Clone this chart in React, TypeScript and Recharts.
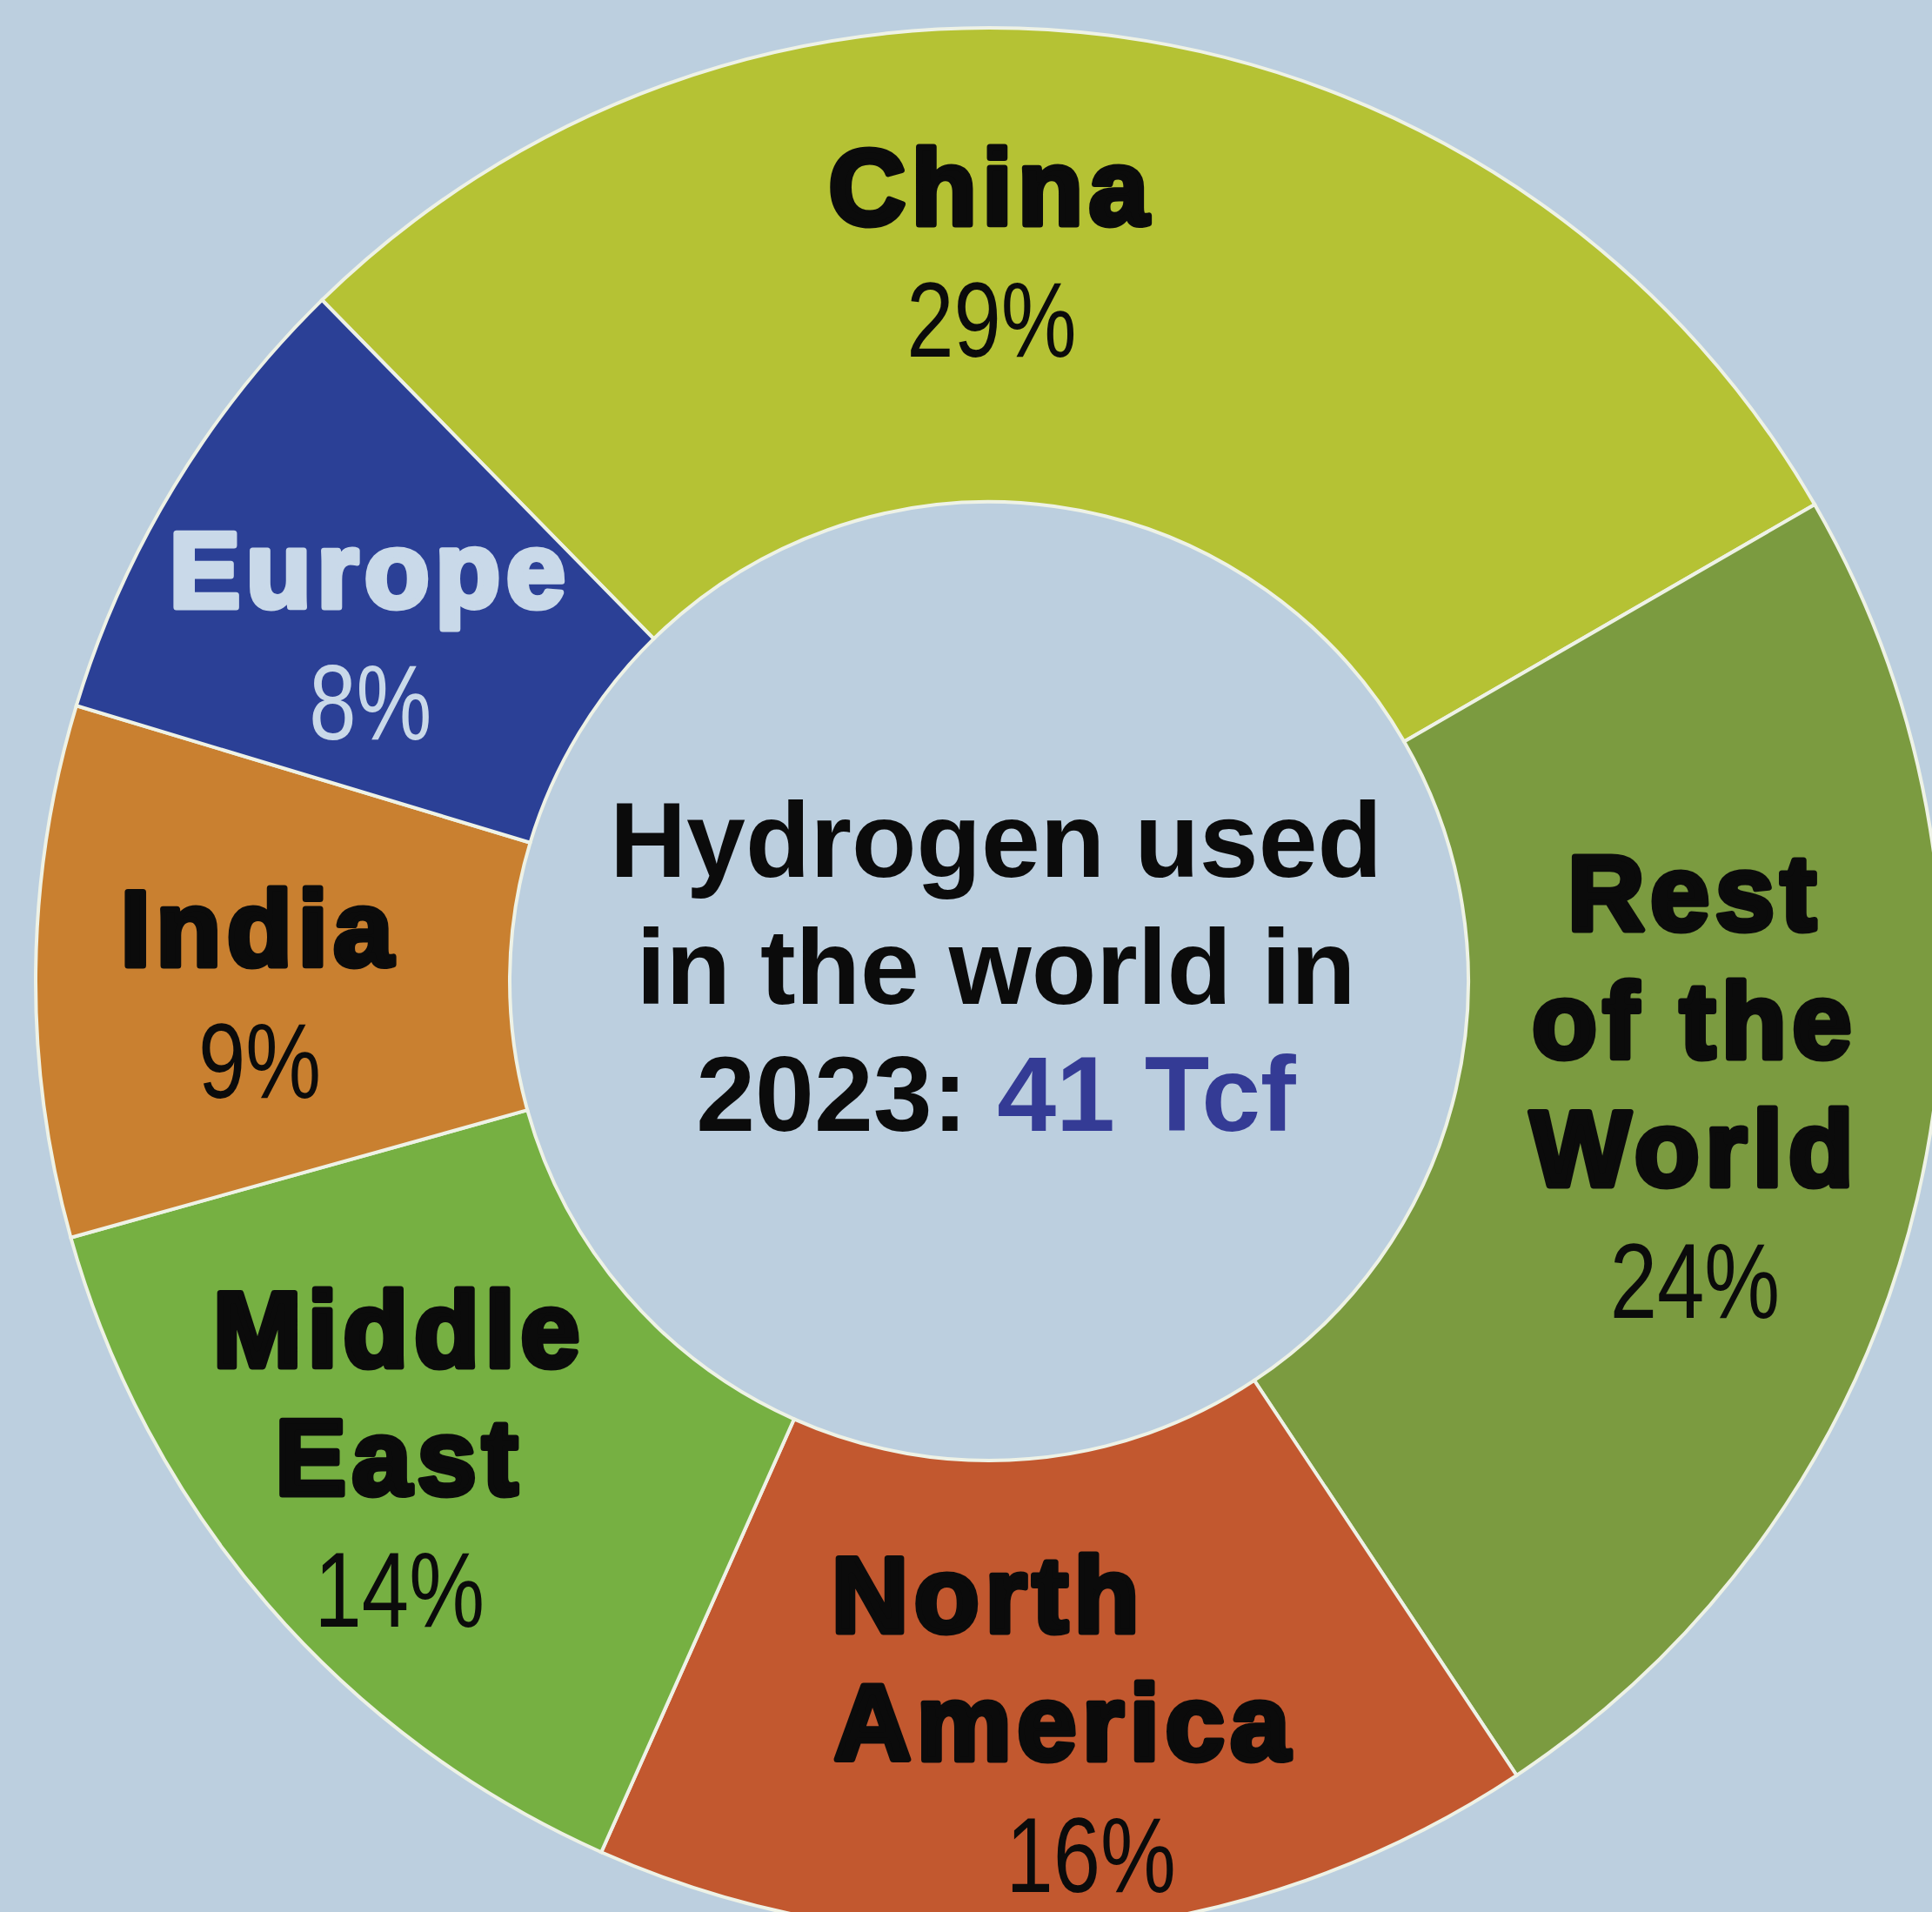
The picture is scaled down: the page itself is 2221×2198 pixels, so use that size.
import React from "react";
import { PieChart, Pie, Cell, Label } from "recharts";

// hydrogen use by region, 2023 (share of 41 Tcf)
const categories = ["China", "Rest of the World", "North America", "Middle East", "India", "Europe"];
const shares = [29, 24, 16, 14, 9, 8];
const labelLines = [["China"], ["Rest", "of the", "World"], ["North", "America"], ["Middle", "East"], ["India"], ["Europe"]];
const centerLines = ["Hydrogen used", "in the world in", "2023: "];
const centerHighlight = "41 Tcf";

const sliceColors = ["#b5c234", "#7b9b40", "#c2582f", "#76b042", "#c98030", "#2b4096"];
const labelColors = ["#0b0b0b", "#0b0b0b", "#0b0b0b", "#0b0b0b", "#0b0b0b", "#c9d9e9"];

// small manual nudges so labels sit where the original puts them
const labelNudge: Record<string, { dx: number; dy: number; lineDx?: number[]; pctDx?: number }> = {
  China: { dx: -111, dy: -8 },
  "Rest of the World": { dx: -5, dy: -72 },
  "North America": { dx: -7, dy: 17, lineDx: [-64, 24], pctDx: 54 },
  "Middle East": { dx: -43, dy: 0 },
  India: { dx: 0, dy: 22 },
  Europe: { dx: 6, dy: 35 },
};

const data = categories.map((name, i) => ({ name, value: shares[i] }));

const BG = "#bccfdf";
const CX = 1137;
const CY = 1128;
const NAME_FONT = "'Liberation Sans', Arial, sans-serif";
const LINE_H = 147;
const PCT_GAP = 152;
const CAP = 90;

const renderSliceLabel = (props: any) => {
  const { cx, cy, midAngle, innerRadius, outerRadius, index } = props;
  const name = categories[index];
  const lines = labelLines[index];
  const nudge = labelNudge[name] || { dx: 0, dy: 0 };
  const r = (innerRadius + outerRadius) / 2 + 15;
  const rad = (-midAngle * Math.PI) / 180;
  const x = cx + r * Math.cos(rad) + nudge.dx;
  const y = cy + r * Math.sin(rad) + nudge.dy;
  const span = (lines.length - 1) * LINE_H + PCT_GAP;
  const b1 = y + CAP / 2 - span / 2;
  const color = labelColors[index];
  const px = x + (nudge.pctDx ?? 0);
  const py = b1 + (lines.length - 1) * LINE_H + PCT_GAP;
  return (
    <g>
      {lines.map((line, i) => (
        <text
          key={line}
          x={x + (nudge.lineDx?.[i] ?? 0)}
          y={b1 + i * LINE_H}
          textAnchor="middle"
          fontFamily={NAME_FONT}
          fontWeight="bold"
          fontSize={122}
          letterSpacing={7}
          fill={color}
          stroke={color}
          strokeWidth={7}
          strokeLinejoin="round"
        >
          {line}
        </text>
      ))}
      {/* narrow look for the percentages */}
      <text
        transform={`translate(${px},${py}) scale(0.8,1)`}
        x={0}
        y={0}
        textAnchor="middle"
        fontFamily={NAME_FONT}
        fontSize={122}
        fill={color}
      >
        {`${shares[index]}%`}
      </text>
    </g>
  );
};

const renderCenter = () => {
  const x = CX + 8;
  return (
    <g>
      {centerLines.map((line, i) => (
        <text
          key={line}
          x={x}
          y={CY - 120 + i * 146}
          textAnchor="middle"
          fontFamily={NAME_FONT}
          fontWeight="bold"
          fontSize={122}
          fill="#0b0b0b"
        >
          {line}
          {i === centerLines.length - 1 && <tspan fill="#343b95">{centerHighlight}</tspan>}
        </text>
      ))}
    </g>
  );
};

export default function App() {
  return (
    <div style={{ position: "absolute", left: 0, top: 0, width: 2221, height: 2198, background: BG, overflow: "hidden" }}>
      <PieChart width={2221} height={2198} margin={{ top: 0, right: 0, bottom: 0, left: 0 }}>
        <Pie
          data={data}
          dataKey="value"
          nameKey="name"
          cx={CX}
          cy={CY}
          innerRadius={551}
          outerRadius={1096}
          startAngle={134.4}
          endAngle={-225.6}
          stroke="#eef2e6"
          strokeWidth={4}
          label={renderSliceLabel}
          labelLine={false}
          isAnimationActive={false}
        >
          {data.map((d, i) => (
            <Cell key={d.name} fill={sliceColors[i]} />
          ))}
          <Label position="center" content={renderCenter} />
        </Pie>
      </PieChart>
    </div>
  );
}
